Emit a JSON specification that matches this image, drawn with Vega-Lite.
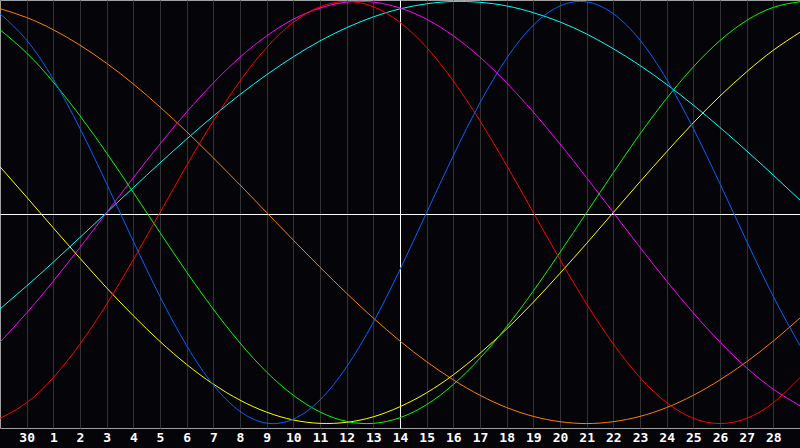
{
  "$schema": "https://vega.github.io/schema/vega-lite/v6.json",
  "width": 800,
  "height": 428,
  "autosize": {"type": "none"},
  "padding": {"left": 0, "top": 0, "right": 0, "bottom": 20},
  "background": "#050408",
  "config": {"view": {"stroke": "#a0a0a0", "strokeWidth": 1, "fill": "#050408"}},
  "data": {"values": [
    {"t": 0, "emotional": -0.975, "physical": 0.942, "intellectual": 0.866, "aesthetic": 0.217, "intuitive": -0.614, "spiritual": -0.457, "awareness": 0.966},
    {"t": 1, "emotional": -0.901, "physical": 0.817, "intellectual": 0.756, "aesthetic": 0.073, "intuitive": -0.476, "spiritual": -0.348, "awareness": 0.924},
    {"t": 2, "emotional": -0.782, "physical": 0.631, "intellectual": 0.618, "aesthetic": -0.073, "intuitive": -0.325, "spiritual": -0.235, "awareness": 0.866},
    {"t": 3, "emotional": -0.623, "physical": 0.398, "intellectual": 0.458, "aesthetic": -0.217, "intuitive": -0.165, "spiritual": -0.118, "awareness": 0.793},
    {"t": 4, "emotional": -0.434, "physical": 0.136, "intellectual": 0.282, "aesthetic": -0.357, "intuitive": 0, "spiritual": 0, "awareness": 0.707},
    {"t": 5, "emotional": -0.223, "physical": -0.136, "intellectual": 0.095, "aesthetic": -0.489, "intuitive": 0.165, "spiritual": 0.118, "awareness": 0.609},
    {"t": 6, "emotional": 0, "physical": -0.398, "intellectual": -0.095, "aesthetic": -0.611, "intuitive": 0.325, "spiritual": 0.235, "awareness": 0.5},
    {"t": 7, "emotional": 0.223, "physical": -0.631, "intellectual": -0.282, "aesthetic": -0.72, "intuitive": 0.476, "spiritual": 0.348, "awareness": 0.383},
    {"t": 8, "emotional": 0.434, "physical": -0.817, "intellectual": -0.458, "aesthetic": -0.813, "intuitive": 0.614, "spiritual": 0.457, "awareness": 0.259},
    {"t": 9, "emotional": 0.623, "physical": -0.942, "intellectual": -0.618, "aesthetic": -0.889, "intuitive": 0.736, "spiritual": 0.559, "awareness": 0.131},
    {"t": 10, "emotional": 0.782, "physical": -0.998, "intellectual": -0.756, "aesthetic": -0.946, "intuitive": 0.837, "spiritual": 0.653, "awareness": 0},
    {"t": 11, "emotional": 0.901, "physical": -0.979, "intellectual": -0.866, "aesthetic": -0.983, "intuitive": 0.916, "spiritual": 0.738, "awareness": -0.131},
    {"t": 12, "emotional": 0.975, "physical": -0.888, "intellectual": -0.945, "aesthetic": -0.999, "intuitive": 0.969, "spiritual": 0.813, "awareness": -0.259},
    {"t": 13, "emotional": 1, "physical": -0.731, "intellectual": -0.99, "aesthetic": -0.994, "intuitive": 0.997, "spiritual": 0.876, "awareness": -0.383},
    {"t": 14, "emotional": 0.975, "physical": -0.52, "intellectual": -0.999, "aesthetic": -0.968, "intuitive": 0.997, "spiritual": 0.927, "awareness": -0.5},
    {"t": 15, "emotional": 0.901, "physical": -0.27, "intellectual": -0.972, "aesthetic": -0.92, "intuitive": 0.969, "spiritual": 0.965, "awareness": -0.609},
    {"t": 16, "emotional": 0.782, "physical": 0, "intellectual": -0.91, "aesthetic": -0.854, "intuitive": 0.916, "spiritual": 0.989, "awareness": -0.707},
    {"t": 17, "emotional": 0.623, "physical": 0.27, "intellectual": -0.815, "aesthetic": -0.769, "intuitive": 0.837, "spiritual": 1.0, "awareness": -0.793},
    {"t": 18, "emotional": 0.434, "physical": 0.52, "intellectual": -0.69, "aesthetic": -0.667, "intuitive": 0.736, "spiritual": 0.996, "awareness": -0.866},
    {"t": 19, "emotional": 0.223, "physical": 0.731, "intellectual": -0.541, "aesthetic": -0.552, "intuitive": 0.614, "spiritual": 0.979, "awareness": -0.924},
    {"t": 20, "emotional": 0, "physical": 0.888, "intellectual": -0.372, "aesthetic": -0.425, "intuitive": 0.476, "spiritual": 0.947, "awareness": -0.966},
    {"t": 21, "emotional": -0.223, "physical": 0.979, "intellectual": -0.189, "aesthetic": -0.288, "intuitive": 0.325, "spiritual": 0.903, "awareness": -0.991},
    {"t": 22, "emotional": -0.434, "physical": 0.998, "intellectual": 0, "aesthetic": -0.146, "intuitive": 0.165, "spiritual": 0.846, "awareness": -1},
    {"t": 23, "emotional": -0.623, "physical": 0.942, "intellectual": 0.189, "aesthetic": 0, "intuitive": 0, "spiritual": 0.776, "awareness": -0.991},
    {"t": 24, "emotional": -0.782, "physical": 0.817, "intellectual": 0.372, "aesthetic": 0.146, "intuitive": -0.165, "spiritual": 0.697, "awareness": -0.966},
    {"t": 25, "emotional": -0.901, "physical": 0.631, "intellectual": 0.541, "aesthetic": 0.288, "intuitive": -0.325, "spiritual": 0.607, "awareness": -0.924},
    {"t": 26, "emotional": -0.975, "physical": 0.398, "intellectual": 0.69, "aesthetic": 0.425, "intuitive": -0.476, "spiritual": 0.509, "awareness": -0.866},
    {"t": 27, "emotional": -1, "physical": 0.136, "intellectual": 0.815, "aesthetic": 0.552, "intuitive": -0.614, "spiritual": 0.403, "awareness": -0.793},
    {"t": 28, "emotional": -0.975, "physical": -0.136, "intellectual": 0.91, "aesthetic": 0.667, "intuitive": -0.736, "spiritual": 0.292, "awareness": -0.707},
    {"t": 29, "emotional": -0.901, "physical": -0.398, "intellectual": 0.972, "aesthetic": 0.769, "intuitive": -0.837, "spiritual": 0.177, "awareness": -0.609},
    {"t": 30, "emotional": -0.782, "physical": -0.631, "intellectual": 0.999, "aesthetic": 0.854, "intuitive": -0.916, "spiritual": 0.059, "awareness": -0.5}
  ]},
  "transform": [
    {"fold": ["awareness", "spiritual", "intuitive", "aesthetic", "intellectual", "emotional", "physical"], "as": ["series", "v"]}
  ],
  "mark": {"type": "line", "interpolate": "natural", "strokeWidth": 1, "clip": true},
  "encoding": {
    "x": {
      "field": "t",
      "type": "quantitative",
      "scale": {"domain": [0, 30], "nice": false, "zero": false},
      "axis": {
        "values": [1, 2, 3, 4, 5, 6, 7, 8, 9, 10, 11, 12, 13, 14, 15, 16, 17, 18, 19, 20, 21, 22, 23, 24, 25, 26, 27, 28, 29],
        "labelExpr": "datum.value == 1 ? '30' : '' + (datum.value - 1)",
        "title": null,
        "grid": true,
        "gridColor": {"condition": {"test": "datum.value == 15", "value": "#ffffff"}, "value": "#333333"},
        "gridOpacity": 1,
        "gridWidth": 1,
        "ticks": false,
        "domain": false,
        "labelColor": "#ffffff",
        "labelFont": "DejaVu Sans Mono",
        "labelFontWeight": "bold",
        "labelFontSize": 13,
        "labelPadding": 3,
        "labelFlush": false,
        "labelOverlap": false
      }
    },
    "y": {
      "field": "v",
      "type": "quantitative",
      "scale": {"domain": [-1.021, 1.007], "nice": false, "zero": false},
      "axis": {
        "values": [-0.007],
        "labels": false,
        "ticks": false,
        "domain": false,
        "title": null,
        "grid": true,
        "gridColor": "#ffffff",
        "gridOpacity": 1,
        "gridWidth": 1
      }
    },
    "color": {
      "field": "series",
      "type": "nominal",
      "scale": {
        "domain": ["physical", "emotional", "intellectual", "intuitive", "aesthetic", "awareness", "spiritual"],
        "range": ["#0064ff", "#ff0000", "#00ff00", "#ff00ff", "#ffff00", "#ff8000", "#00ffff"]
      },
      "legend": null
    }
  }
}
